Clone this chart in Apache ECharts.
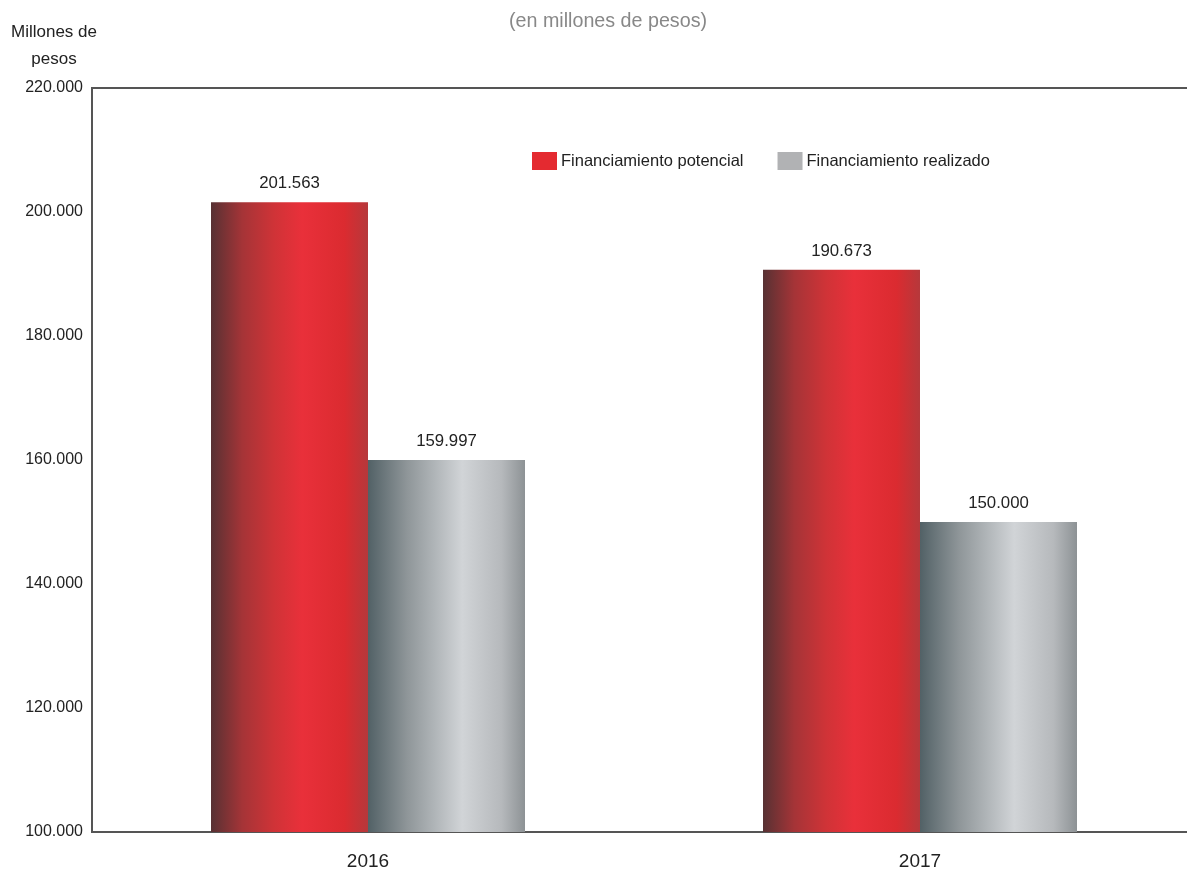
<!DOCTYPE html>
<html><head><meta charset="utf-8">
<script src="https://cdn.jsdelivr.net/npm/echarts@6/dist/echarts.min.js"></script>
<style>html,body{margin:0;padding:0;background:#fff}#c{width:1187px;height:874px}</style>
</head><body><div id="c"></div>
<script>
const categories = ['2016', '2017'];
const potencial = [201563, 190673];
const realizado = [159997, 150000];
const seriesNames = ['Financiamiento potencial', 'Financiamiento realizado'];
const yMin = 100000, yMax = 220000, yStep = 20000;

function fmt(v){ return String(v).replace(/\B(?=(\d{3})+(?!\d))/g, '.'); }
const FONT = "'Liberation Sans', Arial, sans-serif";

const chart = echarts.init(document.getElementById('c'));
const redGrad = new echarts.graphic.LinearGradient(0,0,1,0,[
  {offset:0, color:'#573133'},
  {offset:0.2, color:'#a53437'},
  {offset:0.4, color:'#cf3337'},
  {offset:0.58, color:'#e9303a'},
  {offset:0.85, color:'#db2b30'},
  {offset:1, color:'#b6383b'}
]);
const grayGrad = new echarts.graphic.LinearGradient(0,0,1,0,[
  {offset:0, color:'#526166'},
  {offset:0.25, color:'#8f9699'},
  {offset:0.6, color:'#d1d4d7'},
  {offset:0.85, color:'#b6b9bc'},
  {offset:1, color:'#8d9295'}
]);
chart.setOption({
  animation:false,
  backgroundColor:'#fff',
  title:{text:'(en millones de pesos)', left:509, top:12, padding:0,
    textStyle:{fontFamily:FONT, fontSize:19.7, fontWeight:'normal', color:'#888'}},
  legend:{
    left:532, top:152, padding:0, itemWidth:25, itemHeight:18, itemGap:34,
    textStyle:{fontFamily:FONT, fontSize:16.5, color:'#222', padding:[0,0,0,-1]},
    data:[
      {name:seriesNames[0], icon:'rect', itemStyle:{color:'#e42a30'}},
      {name:seriesNames[1], icon:'rect', itemStyle:{color:'#b1b2b4'}}
    ]
  },
  graphic:[{type:'text', x:54, y:19, style:{text:'Millones de\npesos', font:"17px "+FONT, fill:'#222', align:'center', lineHeight:27}}],
  grid:{left:92, width:1104, top:88, bottom:42, outerBoundsMode:'none', containLabel:false,
    show:true, borderColor:'#555', borderWidth:2, backgroundColor:'transparent'},
  xAxis:{type:'category', data:categories,
    axisLine:{lineStyle:{color:'#555', width:2}}, axisTick:{show:false},
    axisLabel:{fontFamily:FONT, fontSize:19, color:'#222', margin:20}},
  yAxis:{type:'value', min:yMin, max:yMax, interval:yStep,
    axisLine:{show:true, lineStyle:{color:'#555', width:2}}, axisTick:{show:false},
    splitLine:{show:false},
    axisLabel:{fontFamily:FONT, fontSize:16, color:'#222', margin:9, formatter:fmt}},
  series:[
    {name:seriesNames[0], type:'bar', data:potencial, barWidth:157, barGap:'0%',
      itemStyle:{color:redGrad},
      label:{show:true, position:'top', distance:10, fontFamily:FONT, fontSize:16.8, color:'#222', formatter:p=>fmt(p.value)}},
    {name:seriesNames[1], type:'bar', data:realizado, barWidth:157, barGap:'0%',
      itemStyle:{color:grayGrad},
      label:{show:true, position:'top', distance:10, fontFamily:FONT, fontSize:16.8, color:'#222', formatter:p=>fmt(p.value)}}
  ]
});
</script></body></html>
